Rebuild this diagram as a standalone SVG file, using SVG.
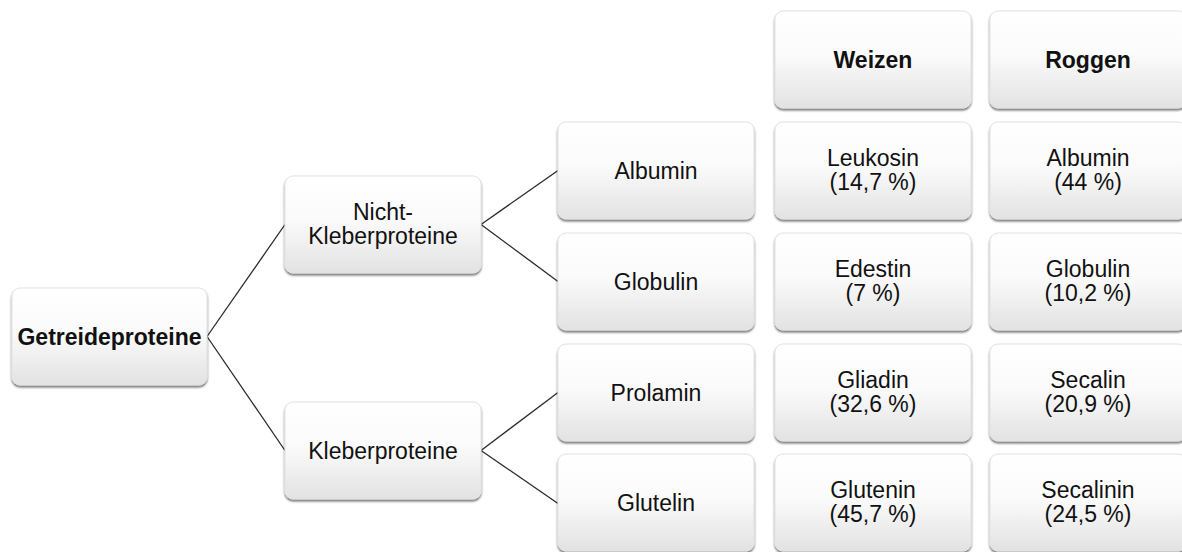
<svg xmlns="http://www.w3.org/2000/svg" width="1182" height="552" viewBox="0 0 1182 552">
<style>
.box{fill:url(#g);stroke:#e2e2e2;stroke-width:1;filter:url(#sh)}
.t{font-family:"Liberation Sans",Arial,sans-serif;font-size:23px;fill:#111;text-anchor:middle}
.b{font-weight:bold}
.c line{stroke:#2a2a2a;stroke-width:1.3}
</style>
<defs>
<linearGradient id="g" x1="0" y1="0" x2="0" y2="1">
<stop offset="0" stop-color="#ffffff"/>
<stop offset="0.45" stop-color="#fbfbfb"/>
<stop offset="1" stop-color="#e2e2e2"/>
</linearGradient>
<filter id="sh" x="-5%" y="-5%" width="110%" height="115%">
<feGaussianBlur in="SourceAlpha" stdDeviation="1.2"/>
<feOffset dy="1.6" result="o"/>
<feComponentTransfer><feFuncA type="linear" slope="0.55"/></feComponentTransfer>
<feMerge><feMergeNode/><feMergeNode in="SourceGraphic"/></feMerge>
</filter>
</defs>
<rect width="1182" height="552" fill="#fff"/>
<g class="c">
<line x1="207" y1="336.5" x2="285" y2="224.5"/>
<line x1="207" y1="336.5" x2="285" y2="450.5"/>
<line x1="481" y1="224.5" x2="558" y2="170.5"/>
<line x1="481" y1="224.5" x2="558" y2="281.5"/>
<line x1="481" y1="450.5" x2="558" y2="392.5"/>
<line x1="481" y1="450.5" x2="558" y2="503.5"/>
</g>
<g id="n-getreide"><rect class="box" x="12" y="288" width="195" height="97" rx="8"/><text class="t b" x="109.5" y="344.5">Getreideproteine</text></g>
<g id="n-nicht"><rect class="box" x="285" y="176" width="196" height="97" rx="8"/><text class="t" x="383" y="219.5">Nicht-</text><text class="t" x="383" y="244">Kleberproteine</text></g>
<g id="n-kleber"><rect class="box" x="285" y="402" width="196" height="97" rx="8"/><text class="t" x="383" y="458.5">Kleberproteine</text></g>
<g id="n-albumin"><rect class="box" x="558" y="122" width="196" height="97" rx="8"/><text class="t" x="656" y="178.5">Albumin</text></g>
<g id="n-globulin"><rect class="box" x="558" y="233" width="196" height="97" rx="8"/><text class="t" x="656" y="289.5">Globulin</text></g>
<g id="n-prolamin"><rect class="box" x="558" y="344" width="196" height="97" rx="8"/><text class="t" x="656" y="400.5">Prolamin</text></g>
<g id="n-glutelin"><rect class="box" x="558" y="454" width="196" height="97" rx="8"/><text class="t" x="656" y="510.5">Glutelin</text></g>
<g id="n-weizen"><rect class="box" x="775" y="11" width="196" height="97" rx="8"/><text class="t b" x="873" y="67.5">Weizen</text></g>
<g id="n-roggen"><rect class="box" x="990" y="11" width="196" height="97" rx="8"/><text class="t b" x="1088" y="67.5">Roggen</text></g>
<g id="n-leukosin"><rect class="box" x="775" y="122" width="196" height="97" rx="8"/><text class="t" x="873" y="165.5">Leukosin</text><text class="t" x="873" y="190">(14,7 %)</text></g>
<g id="n-edestin"><rect class="box" x="775" y="233" width="196" height="97" rx="8"/><text class="t" x="873" y="276.5">Edestin</text><text class="t" x="873" y="301">(7 %)</text></g>
<g id="n-gliadin"><rect class="box" x="775" y="344" width="196" height="97" rx="8"/><text class="t" x="873" y="387.5">Gliadin</text><text class="t" x="873" y="412">(32,6 %)</text></g>
<g id="n-glutenin"><rect class="box" x="775" y="454" width="196" height="97" rx="8"/><text class="t" x="873" y="497.5">Glutenin</text><text class="t" x="873" y="522">(45,7 %)</text></g>
<g id="n-r-albumin"><rect class="box" x="990" y="122" width="196" height="97" rx="8"/><text class="t" x="1088" y="165.5">Albumin</text><text class="t" x="1088" y="190">(44 %)</text></g>
<g id="n-r-globulin"><rect class="box" x="990" y="233" width="196" height="97" rx="8"/><text class="t" x="1088" y="276.5">Globulin</text><text class="t" x="1088" y="301">(10,2 %)</text></g>
<g id="n-secalin"><rect class="box" x="990" y="344" width="196" height="97" rx="8"/><text class="t" x="1088" y="387.5">Secalin</text><text class="t" x="1088" y="412">(20,9 %)</text></g>
<g id="n-secalinin"><rect class="box" x="990" y="454" width="196" height="97" rx="8"/><text class="t" x="1088" y="497.5">Secalinin</text><text class="t" x="1088" y="522">(24,5 %)</text></g>
</svg>
